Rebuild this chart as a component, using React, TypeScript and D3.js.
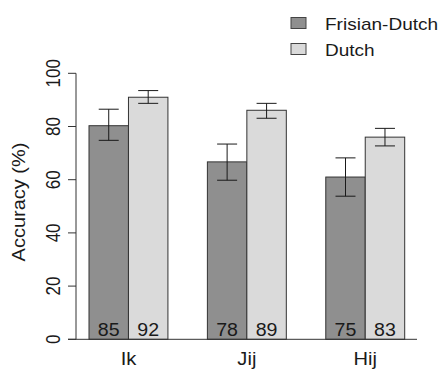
import * as d3 from 'd3';
import React from 'react';

// chart values
const categories = ['Ik', 'Jij', 'Hij'];
const seriesNames = ['Frisian-Dutch', 'Dutch'];
const frisianMean = [80.3, 66.7, 61.0];
const frisianLow = [74.8, 59.8, 53.8];
const frisianHigh = [86.5, 73.4, 68.2];
const dutchMean = [91.0, 86.1, 76.0];
const dutchLow = [88.7, 83.1, 72.7];
const dutchHigh = [93.5, 88.7, 79.3];
const frisianN = [85, 78, 75];
const dutchN = [92, 89, 83];
const yTicks = [0, 20, 40, 60, 80, 100];

const W = 446;
const H = 372;
const FONT = '"Liberation Sans", Arial, sans-serif';
const colors = ['#8f8f8f', '#dadada'];
const ink = '#1a1a1a';

function App() {
  // --------------------------------------------------------
  // scales
  // --------------------------------------------------------
  const y = d3.scaleLinear().domain([0, 100]).range([339.3, 73.3]);
  const x0 = d3.scaleBand().domain(categories).range([89, 404.7])
    .paddingInner(1 / 3).paddingOuter(0);
  const x1 = d3.scaleBand().domain(seriesNames).range([0, x0.bandwidth()]).padding(0);

  const rows = categories.map((c, i) => ({
    cat: c,
    bars: [
      { s: seriesNames[0], v: frisianMean[i], lo: frisianLow[i], hi: frisianHigh[i], n: frisianN[i] },
      { s: seriesNames[1], v: dutchMean[i], lo: dutchLow[i], hi: dutchHigh[i], n: dutchN[i] },
    ],
  }));

  const cap = 10;

  return (
    <svg width={W} height={H} style={{ position: 'absolute', left: 0, top: 0, background: '#fff' }}
      fontFamily={FONT}>
      <rect x={0} y={0} width={W} height={H} fill="#fff" />

      {/* bars, error bars, counts */}
      {rows.map(r => (
        <g key={r.cat} transform={`translate(${x0(r.cat)},0)`}>
          {r.bars.map((b, j) => {
            const bx = x1(b.s)!;
            const cx = bx + x1.bandwidth() / 2;
            return (
              <g key={b.s}>
                <rect x={bx} y={y(b.v)} width={x1.bandwidth()} height={y(0) - y(b.v)}
                  fill={colors[j]} stroke="#333" strokeWidth={1} />
                <line x1={cx} x2={cx} y1={y(b.lo)} y2={y(b.hi)} stroke={ink} />
                <line x1={cx - cap} x2={cx + cap} y1={y(b.lo)} y2={y(b.lo)} stroke={ink} />
                <line x1={cx - cap} x2={cx + cap} y1={y(b.hi)} y2={y(b.hi)} stroke={ink} />
                <text transform={`translate(${cx},336) scale(1.12,1)`} textAnchor="middle"
                  fontSize={17.5} fill={ink}>{b.n}</text>
              </g>
            );
          })}
          <text transform={`translate(${x0.bandwidth() / 2},365) scale(1.15,1)`} textAnchor="middle"
            fontSize={17.5} fill={ink}>{r.cat}</text>
        </g>
      ))}

      {/* baseline */}
      <line x1={68} x2={417} y1={y(0)} y2={y(0)} stroke="#333" />

      {/* y axis */}
      <line x1={76} x2={76} y1={y(0)} y2={y(100)} stroke="#333" />
      {yTicks.map(t => (
        <g key={t}>
          <line x1={68} x2={76} y1={y(t)} y2={y(t)} stroke="#333" />
          <text transform={`translate(60,${y(t)}) scale(1.15,1) rotate(-90)`} textAnchor="middle"
            fontSize={17} fill={ink}>{t}</text>
        </g>
      ))}
      <text transform={`translate(25,202) scale(1,1.08) rotate(-90)`} textAnchor="middle"
        fontSize={18.5} fill={ink}>Accuracy (%)</text>

      {/* legend */}
      {seriesNames.map((s, i) => (
        <g key={s} transform={`translate(0,${i * 26})`}>
          <rect x={291} y={17.5} width={15} height={11} fill={colors[i]} stroke="#444" />
          <text transform={`translate(325,29.5) scale(1.12,1)`} fontSize={17} fill={ink}>{s}</text>
        </g>
      ))}
    </svg>
  );
}

export default App;
